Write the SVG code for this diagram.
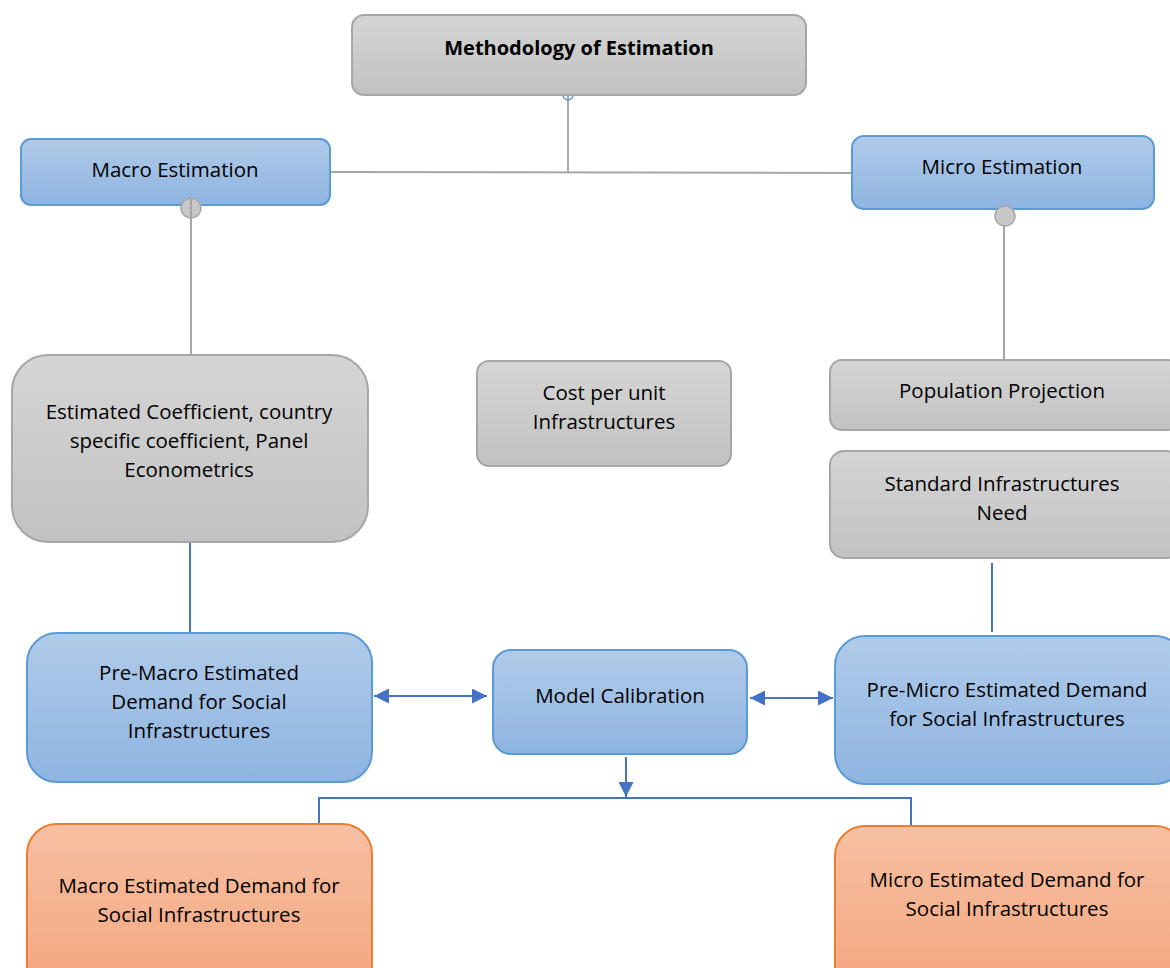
<svg xmlns="http://www.w3.org/2000/svg" width="1170" height="968" viewBox="0 0 1170 968">
<defs>
<linearGradient id="gBlue" x1="0" y1="0" x2="0" y2="1"><stop offset="0" stop-color="#b0cbe9"/><stop offset="1" stop-color="#8eb4e1"/></linearGradient>
<linearGradient id="gGray" x1="0" y1="0" x2="0" y2="1"><stop offset="0" stop-color="#d5d5d5"/><stop offset="1" stop-color="#c2c2c2"/></linearGradient>
<linearGradient id="gOrange" x1="0" y1="0" x2="0" y2="1"><stop offset="0" stop-color="#f7c0a3"/><stop offset="1" stop-color="#f3a57d"/></linearGradient>
<marker id="ah" viewBox="0 0 10 10" refX="10" refY="5" markerWidth="7.5" markerHeight="7.5" orient="auto-start-reverse" markerUnits="strokeWidth"><path d="M0,0 L10,5 L0,10 z" fill="#4472c4"/></marker>
<style>
.blue{fill:url(#gBlue);stroke:#5b9bd5;stroke-width:2}
.gray{fill:url(#gGray);stroke:#a6a6a6;stroke-width:2}
.orange{fill:url(#gOrange);stroke:#ed7d31;stroke-width:2}
text{font-family:"Open Sans","Noto Sans","Liberation Sans",sans-serif;font-size:20.5px;fill:#000;text-anchor:middle}
.bold{font-weight:bold;font-size:20px}
.gl{stroke:#a6a6a6;stroke-width:2;fill:none}
.bl{stroke:#4472c4;stroke-width:2;fill:none}
</style>
</defs>
<g id="connectors">
<path class="gl" d="M568,84 V172"/>
<path class="gl" d="M330,172 L851,173"/>
<circle cx="568" cy="95" r="5" fill="none" stroke="#5b9bd5" stroke-width="1.5"/>
<path class="gl" d="M191,198 V360"/>
<path class="gl" d="M1004,210 V360"/>
<path class="bl" d="M190,543 V632"/>
<path class="bl" d="M992,563 V632"/>
<path class="bl" d="M374,696 H487" marker-start="url(#ah)" marker-end="url(#ah)"/>
<path class="bl" d="M750,698 H833" marker-start="url(#ah)" marker-end="url(#ah)"/>
<path class="bl" d="M626,757 V797" marker-end="url(#ah)"/>
<path class="bl" d="M319,826 V798 H911 V826"/>
</g>
<g id="methodology"><rect class="gray" x="352" y="15" width="454" height="80" rx="12"/><text class="bold" x="579" y="55">Methodology of Estimation</text></g>
<g id="macro"><rect class="blue" x="21" y="139" width="309" height="66" rx="10"/><text x="175" y="177">Macro Estimation</text></g>
<circle cx="191" cy="208" r="10" fill="#c8c8c8" stroke="#a6a6a6" stroke-width="1.5"/>
<path class="gl" d="M191,198 V218"/>
<g id="micro"><rect class="blue" x="852" y="136" width="302" height="73" rx="12"/><text x="1002" y="174">Micro Estimation</text></g>
<circle cx="1005" cy="216" r="10" fill="#c8c8c8" stroke="#a6a6a6" stroke-width="1.5"/>
<g id="coef"><rect class="gray" x="12" y="355" width="356" height="187" rx="36"/><text x="189" y="419">Estimated Coefficient, country</text><text x="189" y="448">specific coefficient, Panel</text><text x="189" y="477">Econometrics</text></g>
<g id="cost"><rect class="gray" x="477" y="361" width="254" height="105" rx="12"/><text x="604" y="400">Cost per unit</text><text x="604" y="429">Infrastructures</text></g>
<g id="population"><rect class="gray" x="830" y="360" width="350" height="70" rx="12"/><text x="1002" y="398">Population Projection</text></g>
<g id="standard"><rect class="gray" x="830" y="451" width="350" height="107" rx="14"/><text x="1002" y="491">Standard Infrastructures</text><text x="1002" y="520">Need</text></g>
<g id="premacro"><rect class="blue" x="27" y="633" width="345" height="149" rx="30"/><text x="199" y="680">Pre-Macro Estimated</text><text x="199" y="709">Demand for Social</text><text x="199" y="738">Infrastructures</text></g>
<g id="calibration"><rect class="blue" x="493" y="650" width="254" height="104" rx="18"/><text x="620" y="703">Model Calibration</text></g>
<g id="premicro"><rect class="blue" x="835" y="636" width="350" height="148" rx="30"/><text x="1007" y="697">Pre-Micro Estimated Demand</text><text x="1007" y="726">for Social Infrastructures</text></g>
<g id="macroout"><rect class="orange" x="27" y="824" width="345" height="170" rx="30"/><text x="199" y="893">Macro Estimated Demand for</text><text x="199" y="922">Social Infrastructures</text></g>
<g id="microout"><rect class="orange" x="835" y="826" width="350" height="170" rx="30"/><text x="1007" y="887">Micro Estimated Demand for</text><text x="1007" y="916">Social Infrastructures</text></g>
</svg>
